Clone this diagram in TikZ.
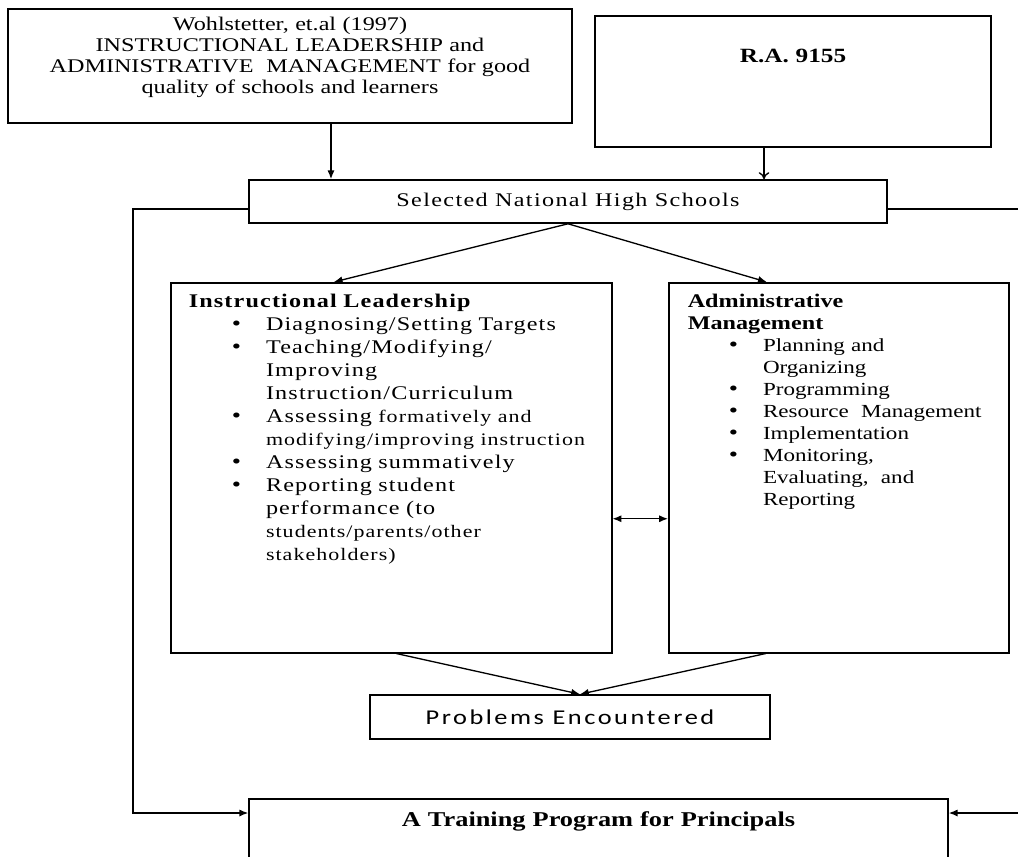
\documentclass[tikz,border=0pt]{standalone}
\usepackage{fontspec}
\setmainfont{Liberation Serif}[FakeStretch=1.25]
\newfontfamily\probfont{Carlito}[FakeStretch=1.25,LetterSpace=12]
\usetikzlibrary{arrows, arrows.meta, positioning, calc}
\newcommand{\bul}{{\fontsize{12}{12}\selectfont\textbullet}}
\newcommand{\sm}{\fontsize{10}{13.1}\selectfont}

\begin{document}
\begin{tikzpicture}[
    x=0.02cm, y=-0.02cm,
    box/.style={draw, line width=0.9pt, inner sep=0pt, align=center},
    listbox/.style={draw, line width=0.9pt, inner sep=0pt, align=left, anchor=north west, text height=0.5cm, text depth=6.9cm},
    arrow/.style={-{Latex[length=5pt,width=4pt]}, line width=0.75pt},
    openarrow/.style={-{To[length=4pt,width=6pt]}, line width=0.75pt}
]
    \clip (0,0) rectangle (1018,856);
    \fill[white] (0,0) rectangle (1018,856);

    % Sources
    \node[box, anchor=north, text width=11.28cm, text height=0.44cm, text depth=1.84cm, font={\fontsize{11}{11.9}\selectfont}] (wohl) at (290,8) {Wohlstetter, et.al (1997)\\INSTRUCTIONAL LEADERSHIP and\\ADMINISTRATIVE\ \ MANAGEMENT for good\\quality of schools and learners};
    \node[box, anchor=north, text width=7.92cm, text height=0.94cm, text depth=1.68cm, font={\bfseries\fontsize{11.5}{13}\selectfont}] (ra) at (793,15) {R.A. 9155};

    % Schools
    \node[box, minimum width=12.76cm, minimum height=0.86cm, font={\fontsize{11}{13}\selectfont\addfontfeature{LetterSpace=7}}] (sel) at (568,201.5) {Selected National High Schools};

    % Two dimensions
    \node[listbox, text width=8.82cm, font={\fontsize{11}{13.1}\selectfont\addfontfeature{LetterSpace=6}}] (il) at (170,282) {%
      \begin{tabular}[t]{@{\hspace{1.22cm}}l@{\hspace{0.5cm}}l@{}}
        \multicolumn{2}{@{\hspace{0.36cm}}l}{\textbf{Instructional Leadership}}\\
        \bul & Diagnosing/Setting Targets\\
        \bul & Teaching/Modifying/\\
             & Improving\\
             & Instruction/Curriculum\\
        \bul & Assessing {\sm formatively and}\\
             & {\sm modifying/improving instruction}\\
        \bul & Assessing summatively\\
        \bul & Reporting student\\
             & performance (to\\
             & {\sm students/parents/other}\\
             & {\sm stakeholders)}
      \end{tabular}};
    \node[listbox, text width=6.8cm, font={\fontsize{10.5}{12.5}\selectfont}] (am) at (668,282) {%
      \begin{tabular}[t]{@{\hspace{1.2cm}}l@{\hspace{0.5cm}}l@{}}
        \multicolumn{2}{@{\hspace{0.38cm}}l}{\fontsize{11}{12.5}\selectfont\textbf{Administrative}}\\
        \multicolumn{2}{@{\hspace{0.38cm}}l}{\fontsize{11}{12.5}\selectfont\textbf{Management}}\\
        \bul & Planning and\\
             & Organizing\\
        \bul & Programming\\
        \bul & Resource\ \ Management\\
        \bul & Implementation\\
        \bul & Monitoring,\\
             & Evaluating,\ \ and\\
             & Reporting
      \end{tabular}};

    % Outcome
    \node[box, minimum width=8cm, minimum height=0.88cm, font={\probfont\fontsize{12}{13}\selectfont}] (prob) at (570,717) {Problems Encountered};
    \node[box, anchor=north, text width=13.98cm, text height=0.56cm, text depth=2cm, font={\bfseries\fontsize{12}{14}\selectfont}] (train) at (598.5,798) {A Training Program for Principals};

    % Arrows
    \draw[arrow] ([xshift=0.82cm]wohl.south) -- ([xshift=0.82cm]wohl.south |- sel.north);
    \draw[openarrow] ([xshift=-0.58cm]ra.south) -- ([xshift=-0.58cm]ra.south |- sel.north);

    \draw[arrow] (sel.south) -- ([xshift=-1.15cm]il.north);
    \draw[arrow] (sel.south) -- ([xshift=-1.44cm]am.north);

    \draw[{Latex[length=5pt,width=4pt]}-{Latex[length=5pt,width=4pt]}, line width=0.75pt] ([yshift=-1.02cm]il.east) -- ([yshift=-1.02cm]il.east -| am.west);

    \draw[arrow] ([xshift=0.1cm]il.south) -- ([xshift=0.2cm]prob.north);
    \draw[arrow] ([xshift=-1.46cm]am.south) -- ([xshift=0.2cm]prob.north);

    % Feedback lines
    \coordinate (lft) at (133,813);
    \coordinate (rgt) at (1030,813);
    \draw[arrow] ([yshift=-0.15cm]sel.west) -| (lft) -- (lft -| train.west);
    \draw[arrow] ([yshift=-0.15cm]sel.east) -| (rgt) -- (rgt -| train.east);
\end{tikzpicture}
\end{document}
